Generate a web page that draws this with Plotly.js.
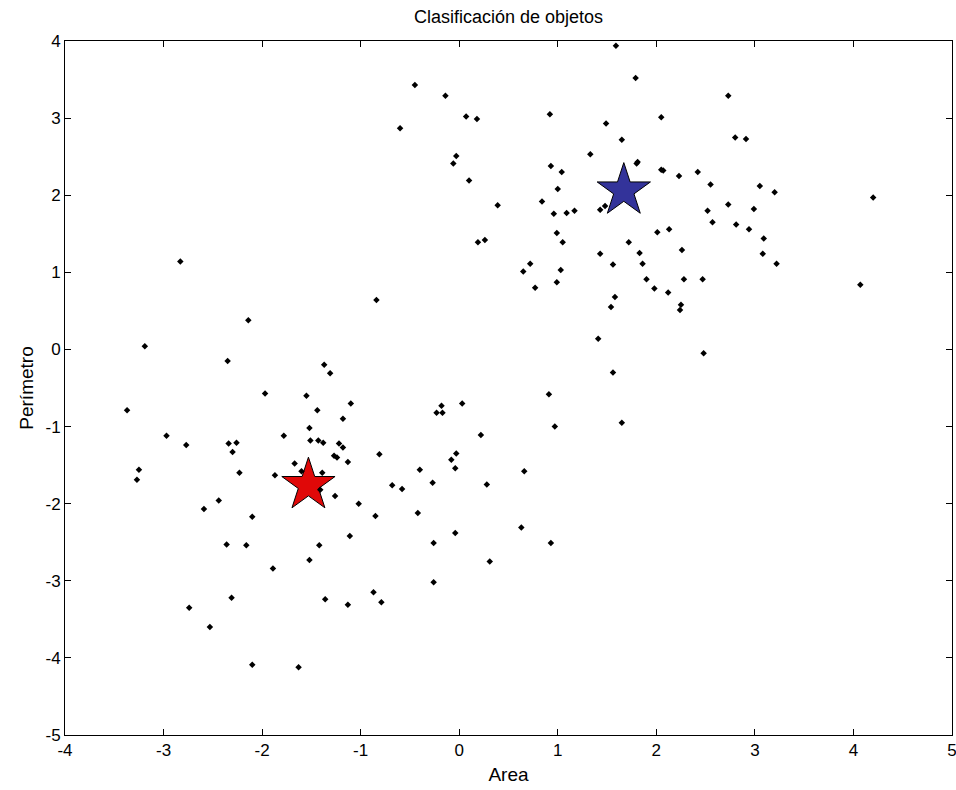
<!DOCTYPE html>
<html>
<head>
<meta charset="utf-8">
<script src="https://cdn.plot.ly/plotly-3.0.1.min.js"></script>
<style>
  html, body { margin: 0; padding: 0; background: #fff; }
  #chart { width: 956px; height: 790px; }
</style>
</head>
<body>
<div id="chart"></div>
<script>
// Observaciones (área, perímetro) normalizadas
const area = [
  1.59, -0.45, 1.79, -0.14, -0.60, 0.07, 0.18, 0.92, 1.49, 1.65,
  -0.03, -0.06, 1.33, 1.81, 1.80, 0.93, 1.04, 0.10, 1.00, 2.05,
  2.73, 2.80, 2.91, 2.05, 2.07, 2.23, 2.42, 2.55, 3.05, 3.20,
  4.20, 0.39, 0.84, 0.96, 1.09, 1.17, 1.43, 1.48, 0.99, 1.05,
  0.19, 0.26, 1.72, 1.43, 1.83, 1.86, 1.56, 1.90, 0.72, 0.65,
  1.03, 0.99, 0.77, 1.58, 1.54, 1.41, 2.73, 2.52, 2.99, 2.57,
  2.81, 2.94, 2.01, 2.13, 3.09, 3.08, 3.22, 2.26, 2.28, 2.47,
  1.98, 2.12, 2.25, 2.24, 4.07, 2.48, 1.56, 1.65, 0.91, 0.97,
  -2.83, -2.14, -3.19, -2.35, -1.37, -1.97, -1.55, -3.37, -1.44, -0.84,
  -1.31, -1.10, -1.18, -0.18, -0.23, -0.17, 0.03, -2.97, -2.77, -2.34,
  -2.26, -2.30, -1.78, -1.52, -1.51, -1.43, -1.38, -1.67, -1.60, -1.39,
  -1.41, -1.87, -2.23, -3.25, -3.27, -2.44, -2.59, -2.10, -2.36, -2.16,
  -1.42, -1.52, -1.22, -1.18, -1.27, -1.24, -1.13, -0.81, -1.26, -1.02,
  -0.85, -1.11, -0.68, -0.58, -0.40, -0.27, -0.42, -0.08, -0.03, -0.04,
  0.22, 0.28, 0.66, -0.04, -0.26, 0.63, 0.93, -1.89, -2.31, -2.74,
  -2.53, -1.36, -2.10, -1.63, -1.13, -0.87, -0.79, -0.26, 0.31
];
const perimetro = [
  3.94, 3.43, 3.52, 3.29, 2.87, 3.02, 2.99, 3.05, 2.93, 2.72,
  2.51, 2.41, 2.53, 2.43, 2.41, 2.38, 2.30, 2.19, 2.08, 3.01,
  3.29, 2.75, 2.73, 2.33, 2.32, 2.25, 2.30, 2.14, 2.12, 2.04,
  1.97, 1.87, 1.92, 1.76, 1.77, 1.80, 1.81, 1.86, 1.51, 1.39,
  1.39, 1.42, 1.39, 1.24, 1.25, 1.11, 1.10, 0.91, 1.11, 1.01,
  1.03, 0.87, 0.80, 0.68, 0.55, 0.14, 1.88, 1.80, 1.82, 1.65,
  1.62, 1.56, 1.52, 1.56, 1.44, 1.24, 1.11, 1.29, 0.91, 0.91,
  0.79, 0.74, 0.58, 0.51, 0.84, -0.05, -0.30, -0.95, -0.58, -1.00,
  1.14, 0.38, 0.04, -0.15, -0.20, -0.57, -0.60, -0.79, -0.79, 0.64,
  -0.31, -0.70, -0.90, -0.73, -0.82, -0.82, -0.70, -1.12, -1.24, -1.22,
  -1.21, -1.33, -1.12, -1.02, -1.18, -1.18, -1.21, -1.48, -1.58, -1.60,
  -1.82, -1.63, -1.60, -1.56, -1.69, -1.96, -2.07, -2.17, -2.53, -2.54,
  -2.54, -2.73, -1.22, -1.27, -1.38, -1.40, -1.46, -1.36, -1.90, -2.00,
  -2.16, -2.42, -1.76, -1.81, -1.56, -1.73, -2.12, -1.43, -1.35, -1.54,
  -1.11, -1.75, -1.58, -2.38, -2.51, -2.31, -2.51, -2.84, -3.22, -3.35,
  -3.60, -3.24, -4.09, -4.12, -3.31, -3.15, -3.28, -3.02, -2.75
];

// Centroides de los dos grupos
const centroArea = [-1.53, 1.67];
const centroPerimetro = [-1.76, 2.06];
const centroColor = ['#e00808', '#33339a'];

const xTicks = [-4, -3, -2, -1, 0, 1, 2, 3, 4, 5];
const yTicks = [-5, -4, -3, -2, -1, 0, 1, 2, 3, 4];

const font = 'Liberation Sans, Arial, sans-serif';

const traces = [
  {
    type: 'scatter', mode: 'markers',
    x: centroArea, y: centroPerimetro,
    marker: {
      symbol: 'star', size: 40,
      color: centroColor,
      line: { color: '#000', width: 1 }
    },
    hoverinfo: 'x+y'
  },
  {
    type: 'scatter', mode: 'markers',
    x: area, y: perimetro,
    marker: { symbol: 'diamond', size: 5, color: '#000' },
    hoverinfo: 'x+y'
  }
];

const axisBase = {
  showgrid: false, zeroline: false,
  showline: true, linecolor: '#000', linewidth: 1, mirror: 'ticks',
  ticks: 'inside', ticklen: 6, tickcolor: '#000', tickwidth: 1,
  ticklabeloverflow: 'allow',
  tickfont: { family: font, size: 17, color: '#000' }
};

const layout = {
  width: 956, height: 790,
  margin: { l: 65, r: 4, t: 41, b: 55 },
  paper_bgcolor: '#fff', plot_bgcolor: '#fff',
  showlegend: false,
  title: {
    text: 'Clasificación de objetos',
    font: { family: font, size: 18, color: '#000' },
    x: 0.5, xref: 'paper', xanchor: 'center',
    y: 1 - 17 / 790, yref: 'container', yanchor: 'middle'
  },
  xaxis: Object.assign({}, axisBase, {
    range: [-4, 5], tickvals: xTicks, ticktext: xTicks.map(String),
    title: { text: 'Area', font: { family: font, size: 19, color: '#000' }, standoff: 8 }
  }),
  yaxis: Object.assign({}, axisBase, {
    range: [-5, 4], tickvals: yTicks, ticktext: yTicks.map(String),
    title: { text: 'Perímetro', font: { family: font, size: 19, color: '#000' }, standoff: 6 }
  })
};

Plotly.newPlot('chart', traces, layout, { displayModeBar: false, staticPlot: true });
</script>
</body>
</html>
